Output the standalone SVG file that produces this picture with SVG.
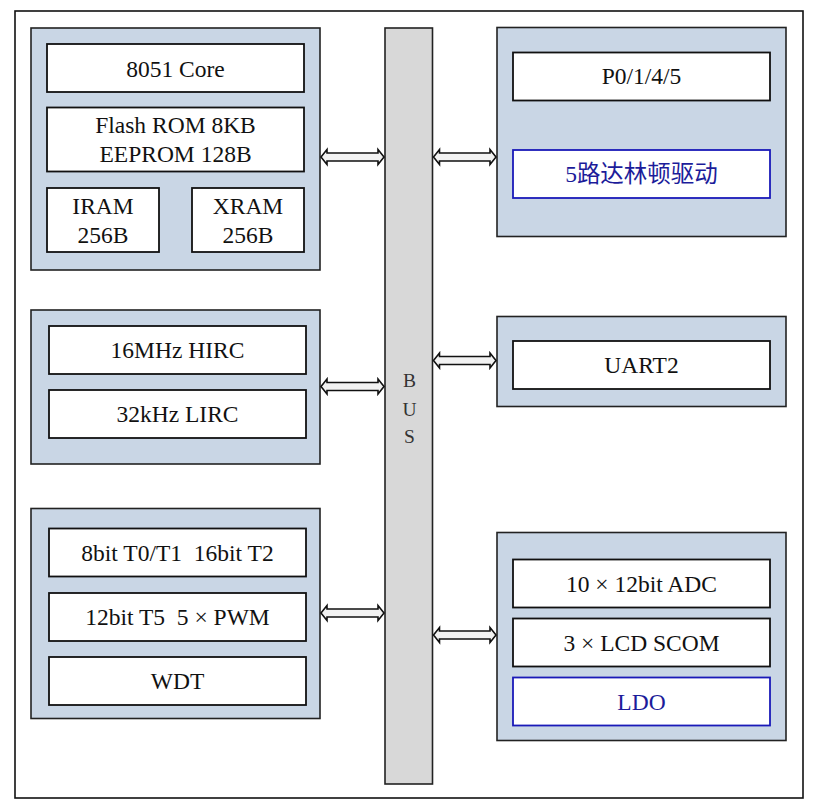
<svg xmlns="http://www.w3.org/2000/svg" width="818" height="812" viewBox="0 0 818 812">
<style>
.grp{fill:#C9D6E5;stroke:#222;stroke-width:1.6}
.box{fill:#fff;stroke:#111;stroke-width:1.8}
.bbox{fill:#fff;stroke:#1A1AB8;stroke-width:1.8}
.t{font-family:"Liberation Serif","Noto Sans CJK SC",serif;font-size:23.5px;fill:#111;text-anchor:middle;white-space:pre}
.bt{fill:#1C1C9A}
.arr{fill:#F2F2F2;stroke:#111;stroke-width:1.6;stroke-linejoin:miter}
.bus{fill:#D8D8D8;stroke:#222;stroke-width:1.6}
</style>
<rect x="0" y="0" width="818" height="812" fill="#fff"/>
<rect x="15" y="11" width="788" height="787" fill="#fff" stroke="#111" stroke-width="1.6"/>

<g id="bus">
<rect class="bus" x="385" y="28" width="47.5" height="756"/>
<text class="t" x="409.5" y="387" style="font-size:19.5px;fill:#333">B</text>
<text class="t" x="409.5" y="416" style="font-size:19.5px;fill:#333">U</text>
<text class="t" x="409.5" y="443" style="font-size:19.5px;fill:#333">S</text>
</g>

<g id="core-group">
<rect class="grp" x="31" y="28" width="289" height="242"/>
<g id="core"><rect class="box" x="47" y="44" width="257" height="48"/><text class="t" x="175.5" y="77">8051 Core</text></g>
<g id="flash"><rect class="box" x="47" y="107.5" width="257" height="64"/><text class="t" x="175.5" y="133">Flash ROM 8KB</text><text class="t" x="175.5" y="162">EEPROM 128B</text></g>
<g id="iram"><rect class="box" x="47" y="188" width="112" height="64"/><text class="t" x="103" y="214">IRAM</text><text class="t" x="103" y="243">256B</text></g>
<g id="xram"><rect class="box" x="192" y="188" width="112" height="64"/><text class="t" x="248" y="214">XRAM</text><text class="t" x="248" y="243">256B</text></g>
</g>

<g id="clock-group">
<rect class="grp" x="31" y="310" width="289" height="154"/>
<g id="hirc"><rect class="box" x="49" y="326" width="257" height="48"/><text class="t" x="177.5" y="358">16MHz HIRC</text></g>
<g id="lirc"><rect class="box" x="49" y="390" width="257" height="48"/><text class="t" x="177.5" y="422">32kHz LIRC</text></g>
</g>

<g id="timer-group">
<rect class="grp" x="31" y="508.5" width="289" height="210"/>
<g id="timers"><rect class="box" x="49" y="528.5" width="257" height="48"/><text class="t" x="177.5" y="561" xml:space="preserve">8bit T0/T1  16bit T2</text></g>
<g id="pwm"><rect class="box" x="49" y="593" width="257" height="48"/><text class="t" x="177.5" y="625" xml:space="preserve">12bit T5  5 × PWM</text></g>
<g id="wdt"><rect class="box" x="49" y="657" width="257" height="48"/><text class="t" x="177.5" y="689">WDT</text></g>
</g>

<g id="io-group">
<rect class="grp" x="497" y="27.5" width="289" height="209"/>
<g id="ports"><rect class="box" x="513" y="52.5" width="257" height="48"/><text class="t" x="641.5" y="84">P0/1/4/5</text></g>
<g id="darlington"><rect class="bbox" x="513" y="150" width="257" height="48"/><text class="t bt" x="641.5" y="182">5路达林顿驱动</text></g>
</g>

<g id="uart-group">
<rect class="grp" x="497" y="316.5" width="289" height="90"/>
<g id="uart2"><rect class="box" x="513" y="341" width="257" height="48"/><text class="t" x="641.5" y="373">UART2</text></g>
</g>

<g id="analog-group">
<rect class="grp" x="497" y="532.5" width="289" height="208"/>
<g id="adc"><rect class="box" x="513" y="559.5" width="257" height="48"/><text class="t" x="641.5" y="592">10 × 12bit ADC</text></g>
<g id="lcd"><rect class="box" x="513" y="618.5" width="257" height="48"/><text class="t" x="641.5" y="651">3 × LCD SCOM</text></g>
<g id="ldo"><rect class="bbox" x="513" y="677.5" width="257" height="48"/><text class="t bt" x="641.5" y="710">LDO</text></g>
</g>

<g id="connectors">
<path class="arr" d="M321,157 L327,149.5 L327,153 L378,153 L378,149.5 L384,157 L378,164.5 L378,161 L327,161 L327,164.5 Z"/>
<path class="arr" d="M433.5,157 L439.5,149.5 L439.5,153 L490,153 L490,149.5 L496,157 L490,164.5 L490,161 L439.5,161 L439.5,164.5 Z"/>
<path class="arr" d="M321,386.5 L327,379 L327,382.5 L378,382.5 L378,379 L384,386.5 L378,394 L378,390.5 L327,390.5 L327,394 Z"/>
<path class="arr" d="M433.5,360.5 L439.5,353 L439.5,356.5 L490,356.5 L490,353 L496,360.5 L490,368 L490,364.5 L439.5,364.5 L439.5,368 Z"/>
<path class="arr" d="M321,613 L327,605.5 L327,609 L378,609 L378,605.5 L384,613 L378,620.5 L378,617 L327,617 L327,620.5 Z"/>
<path class="arr" d="M433.5,635 L439.5,627.5 L439.5,631 L490,631 L490,627.5 L496,635 L490,642.5 L490,639 L439.5,639 L439.5,642.5 Z"/>
</g>
</svg>
